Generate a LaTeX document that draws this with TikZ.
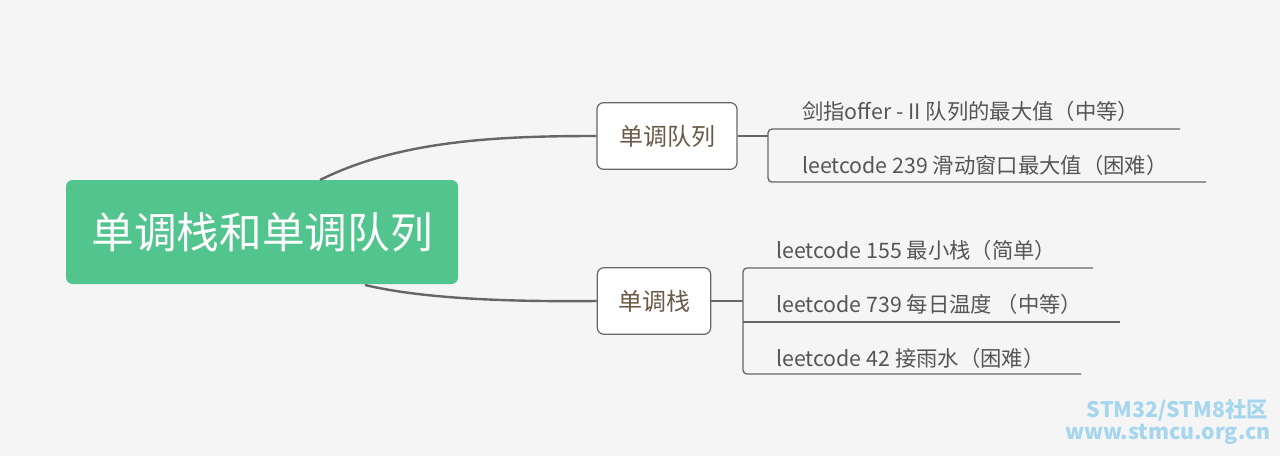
\documentclass[tikz,border=0pt]{standalone}
\usepackage{fontspec}
\setmainfont{Noto Sans CJK SC}
\usetikzlibrary{positioning}
\definecolor{rootgreen}{HTML}{52C48D}
\definecolor{topicbrown}{HTML}{6B5A45}
\definecolor{linegray}{HTML}{666666}
\definecolor{leafgray}{HTML}{555555}
\definecolor{markblue}{HTML}{A6D5EE}
\tikzset{
  root/.style={fill=rootgreen, rounded corners=5pt, text=white, font=\fontsize{32}{36}\selectfont,
    minimum width=294pt, minimum height=78pt},
  topic/.style={draw=linegray, line width=0.9pt, fill=white, rounded corners=5pt, text=topicbrown,
    font=\fontsize{18}{22}\selectfont, minimum height=50pt, inner xsep=12pt},
  leaf/.style={anchor=west, text=leafgray, font=\fontsize{16}{18}\selectfont, inner sep=0pt},
  link/.style={draw=linegray, line width=1.8pt},
  branch/.style={draw=linegray, line width=1pt, rounded corners=3pt},
  watermark/.style={text=markblue, font=\bfseries\fontsize{16}{18}\selectfont, anchor=east, inner sep=0pt},
}
\begin{document}
\begin{tikzpicture}[x=0.75pt, y=-0.75pt]
    \fill[white!96!black] (0,0) rectangle (1280,456);
    \useasboundingbox (0,0) rectangle (1280,456);

    \node[root] (main) at (262,232) {单调栈和单调队列};
    \node[topic, minimum width=105pt] (queue) at (667,136) {单调队列};
    \node[topic, minimum width=85pt] (stack) at (654,301) {单调栈};

    % main to topics
    \draw[link] (320,180) .. controls (400,140) and (500,136) .. (queue.west);
    \draw[link] (365,285) .. controls (420,298) and (500,302) .. (stack.west);

    % queue leaves
    \node[leaf] (q1) at (802,111) {剑指offer - II 队列的最大值（中等）};
    \node[leaf] (q2) at (802,165) {leetcode 239 滑动窗口最大值（困难）};
    \coordinate (qj) at (768,136);
    \draw[branch] (queue.east) -- (qj);
    \draw[branch] (1180,129) -- (768,129) -- (768,182) -- (1206,182);

    % stack leaves
    \node[leaf] (s1) at (776,250) {leetcode 155 最小栈（简单）};
    \node[leaf] (s2) at (776,304) {leetcode 739 每日温度 （中等）};
    \node[leaf] (s3) at (776,358) {leetcode 42 接雨水（困难）};
    \coordinate (sj) at (743,301);
    \draw[branch] (stack.east) -- (sj);
    \draw[branch] (1093,268) -- (743,268) -- (743,374) -- (1081,374);
    \draw[branch] (743,322) -- (1120,322);

    % watermark
    \node[watermark] (mark1) at (1268,410) {STM32/STM8社区};
    \node[watermark] (mark2) at (1271,434) {www.stmcu.org.cn};
\end{tikzpicture}
\end{document}
